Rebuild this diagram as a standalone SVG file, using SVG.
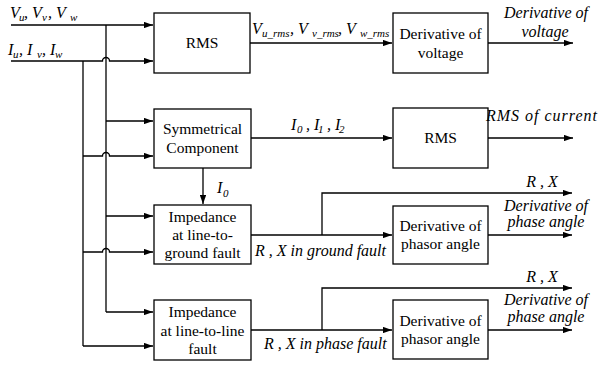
<svg xmlns="http://www.w3.org/2000/svg" width="599" height="365" viewBox="0 0 599 365">
<style>
.box{fill:#fff;stroke:#000;stroke-width:1.3}
.ln{fill:none;stroke:#000;stroke-width:1.3}
.arr{marker-end:url(#ah)}
.bt{font-size:15.5px;fill:#000;text-anchor:middle}
.it{font-size:16px;font-style:italic;fill:#000}
.sub{font-size:11px}
.c{text-anchor:middle}
</style>
<defs>
<marker id="ah" viewBox="0 0 10 7" refX="10" refY="3.5" markerWidth="9" markerHeight="6.5" markerUnits="userSpaceOnUse" orient="auto">
<path d="M0,0 L10,3.5 L0,7 z" fill="#000"/>
</marker>
</defs>

<g id="connectors">
<path class="ln arr" d="M11,25 H153"/>
<path class="ln arr" d="M11,61 H102.5 A3.5,3.5 0 0 1 109.5,61 H153"/>
<path class="ln" d="M106,25 V312"/>
<path class="ln" d="M83,61 V346"/>
<path class="ln arr" d="M106,121 H153"/>
<path class="ln arr" d="M83,156 H102.5 A3.5,3.5 0 0 1 109.5,156 H153"/>
<path class="ln arr" d="M106,216 H153"/>
<path class="ln arr" d="M83,252 H102.5 A3.5,3.5 0 0 1 109.5,252 H153"/>
<path class="ln arr" d="M106,312 H153"/>
<path class="ln arr" d="M83,346 H153"/>
<path class="ln arr" d="M250,43 H392"/>
<path class="ln arr" d="M488,43 H573"/>
<path class="ln arr" d="M251,138 H392"/>
<path class="ln arr" d="M488,138 H573"/>
<path class="ln arr" d="M203,168 V204"/>
<path class="ln arr" d="M251,235 H392"/>
<path class="ln arr" d="M322,235 V193 H572"/>
<path class="ln arr" d="M488,235 H572"/>
<path class="ln arr" d="M251,330 H392"/>
<path class="ln arr" d="M322,330 V288 H572"/>
<path class="ln arr" d="M488,330 H572"/>
</g>

<g font-family="'Liberation Serif', 'Times New Roman', Tinos, 'DejaVu Serif', serif">
<g id="rms-voltage">
<rect class="box" x="154" y="13" width="96" height="60"/>
<text class="bt" x="202" y="48">RMS</text>
</g>
<g id="derivative-voltage">
<rect class="box" x="393" y="13" width="95" height="60"/>
<text class="bt" x="440.5" y="39">Derivative of</text>
<text class="bt" x="440.5" y="58">voltage</text>
</g>
<g id="symmetrical">
<rect class="box" x="154" y="109" width="97" height="59"/>
<text class="bt" x="202.5" y="134">Symmetrical</text>
<text class="bt" x="202.5" y="153">Component</text>
</g>
<g id="rms-current">
<rect class="box" x="393" y="108" width="95" height="60"/>
<text class="bt" x="440.5" y="143">RMS</text>
</g>
<g id="impedance-ground">
<rect class="box" x="154" y="205" width="97" height="59"/>
<text class="bt" x="202.5" y="222">Impedance</text>
<text class="bt" x="202.5" y="240">at line-to-</text>
<text class="bt" x="202.5" y="258">ground fault</text>
</g>
<g id="phasor-ground">
<rect class="box" x="393" y="206" width="95" height="58"/>
<text class="bt" x="440.5" y="231">Derivative of</text>
<text class="bt" x="440.5" y="249">phasor angle</text>
</g>
<g id="impedance-line">
<rect class="box" x="154" y="300" width="97" height="60"/>
<text class="bt" x="202.5" y="317">Impedance</text>
<text class="bt" x="202.5" y="336">at line-to-line</text>
<text class="bt" x="202.5" y="354">fault</text>
</g>
<g id="phasor-line">
<rect class="box" x="393" y="300" width="95" height="59"/>
<text class="bt" x="440.5" y="326">Derivative of</text>
<text class="bt" x="440.5" y="344">phasor angle</text>
</g>

<g id="labels">
<text class="it"><tspan x="10" y="18">V</tspan><tspan class="sub" x="19" y="21">u</tspan><tspan x="24" y="18">, V</tspan><tspan class="sub" x="42" y="21">v</tspan><tspan x="48" y="18">, V</tspan><tspan class="sub" x="70" y="21">w</tspan></text>
<text class="it"><tspan x="8" y="55">I</tspan><tspan class="sub" x="13" y="58">u</tspan><tspan x="19" y="55">, I</tspan><tspan class="sub" x="37" y="58">v</tspan><tspan x="42" y="55">, I</tspan><tspan class="sub" x="55" y="58">w</tspan></text>
<text class="it"><tspan x="252" y="34">V</tspan><tspan class="sub" x="262" y="37">u_rms</tspan><tspan x="290" y="34">, V</tspan><tspan class="sub" x="312" y="37">v_rms</tspan><tspan x="338" y="34">, V</tspan><tspan class="sub" x="360" y="37">w_rms</tspan></text>
<text class="it"><tspan x="291" y="130">I</tspan><tspan class="sub" x="297" y="133">0</tspan><tspan x="302" y="130"> , I</tspan><tspan class="sub" x="318" y="133">1</tspan><tspan x="323" y="130"> , I</tspan><tspan class="sub" x="339" y="133">2</tspan></text>
<text class="it"><tspan x="217" y="193">I</tspan><tspan class="sub" x="223" y="197">0</tspan></text>
<text class="it c" x="546" y="18">Derivative of</text>
<text class="it c" x="545" y="37">voltage</text>
<text class="it" x="486" y="121" textLength="111">RMS of current</text>
<text class="it" x="255" y="256">R , X in ground fault</text>
<text class="it" x="264" y="349">R , X in phase fault</text>
<text class="it c" x="542" y="187">R , X</text>
<text class="it c" x="546" y="211">Derivative of</text>
<text class="it c" x="546" y="227">phase angle</text>
<text class="it c" x="542" y="282">R , X</text>
<text class="it c" x="546" y="305">Derivative of</text>
<text class="it c" x="546" y="322">phase angle</text>
</g>
</g>
</svg>
